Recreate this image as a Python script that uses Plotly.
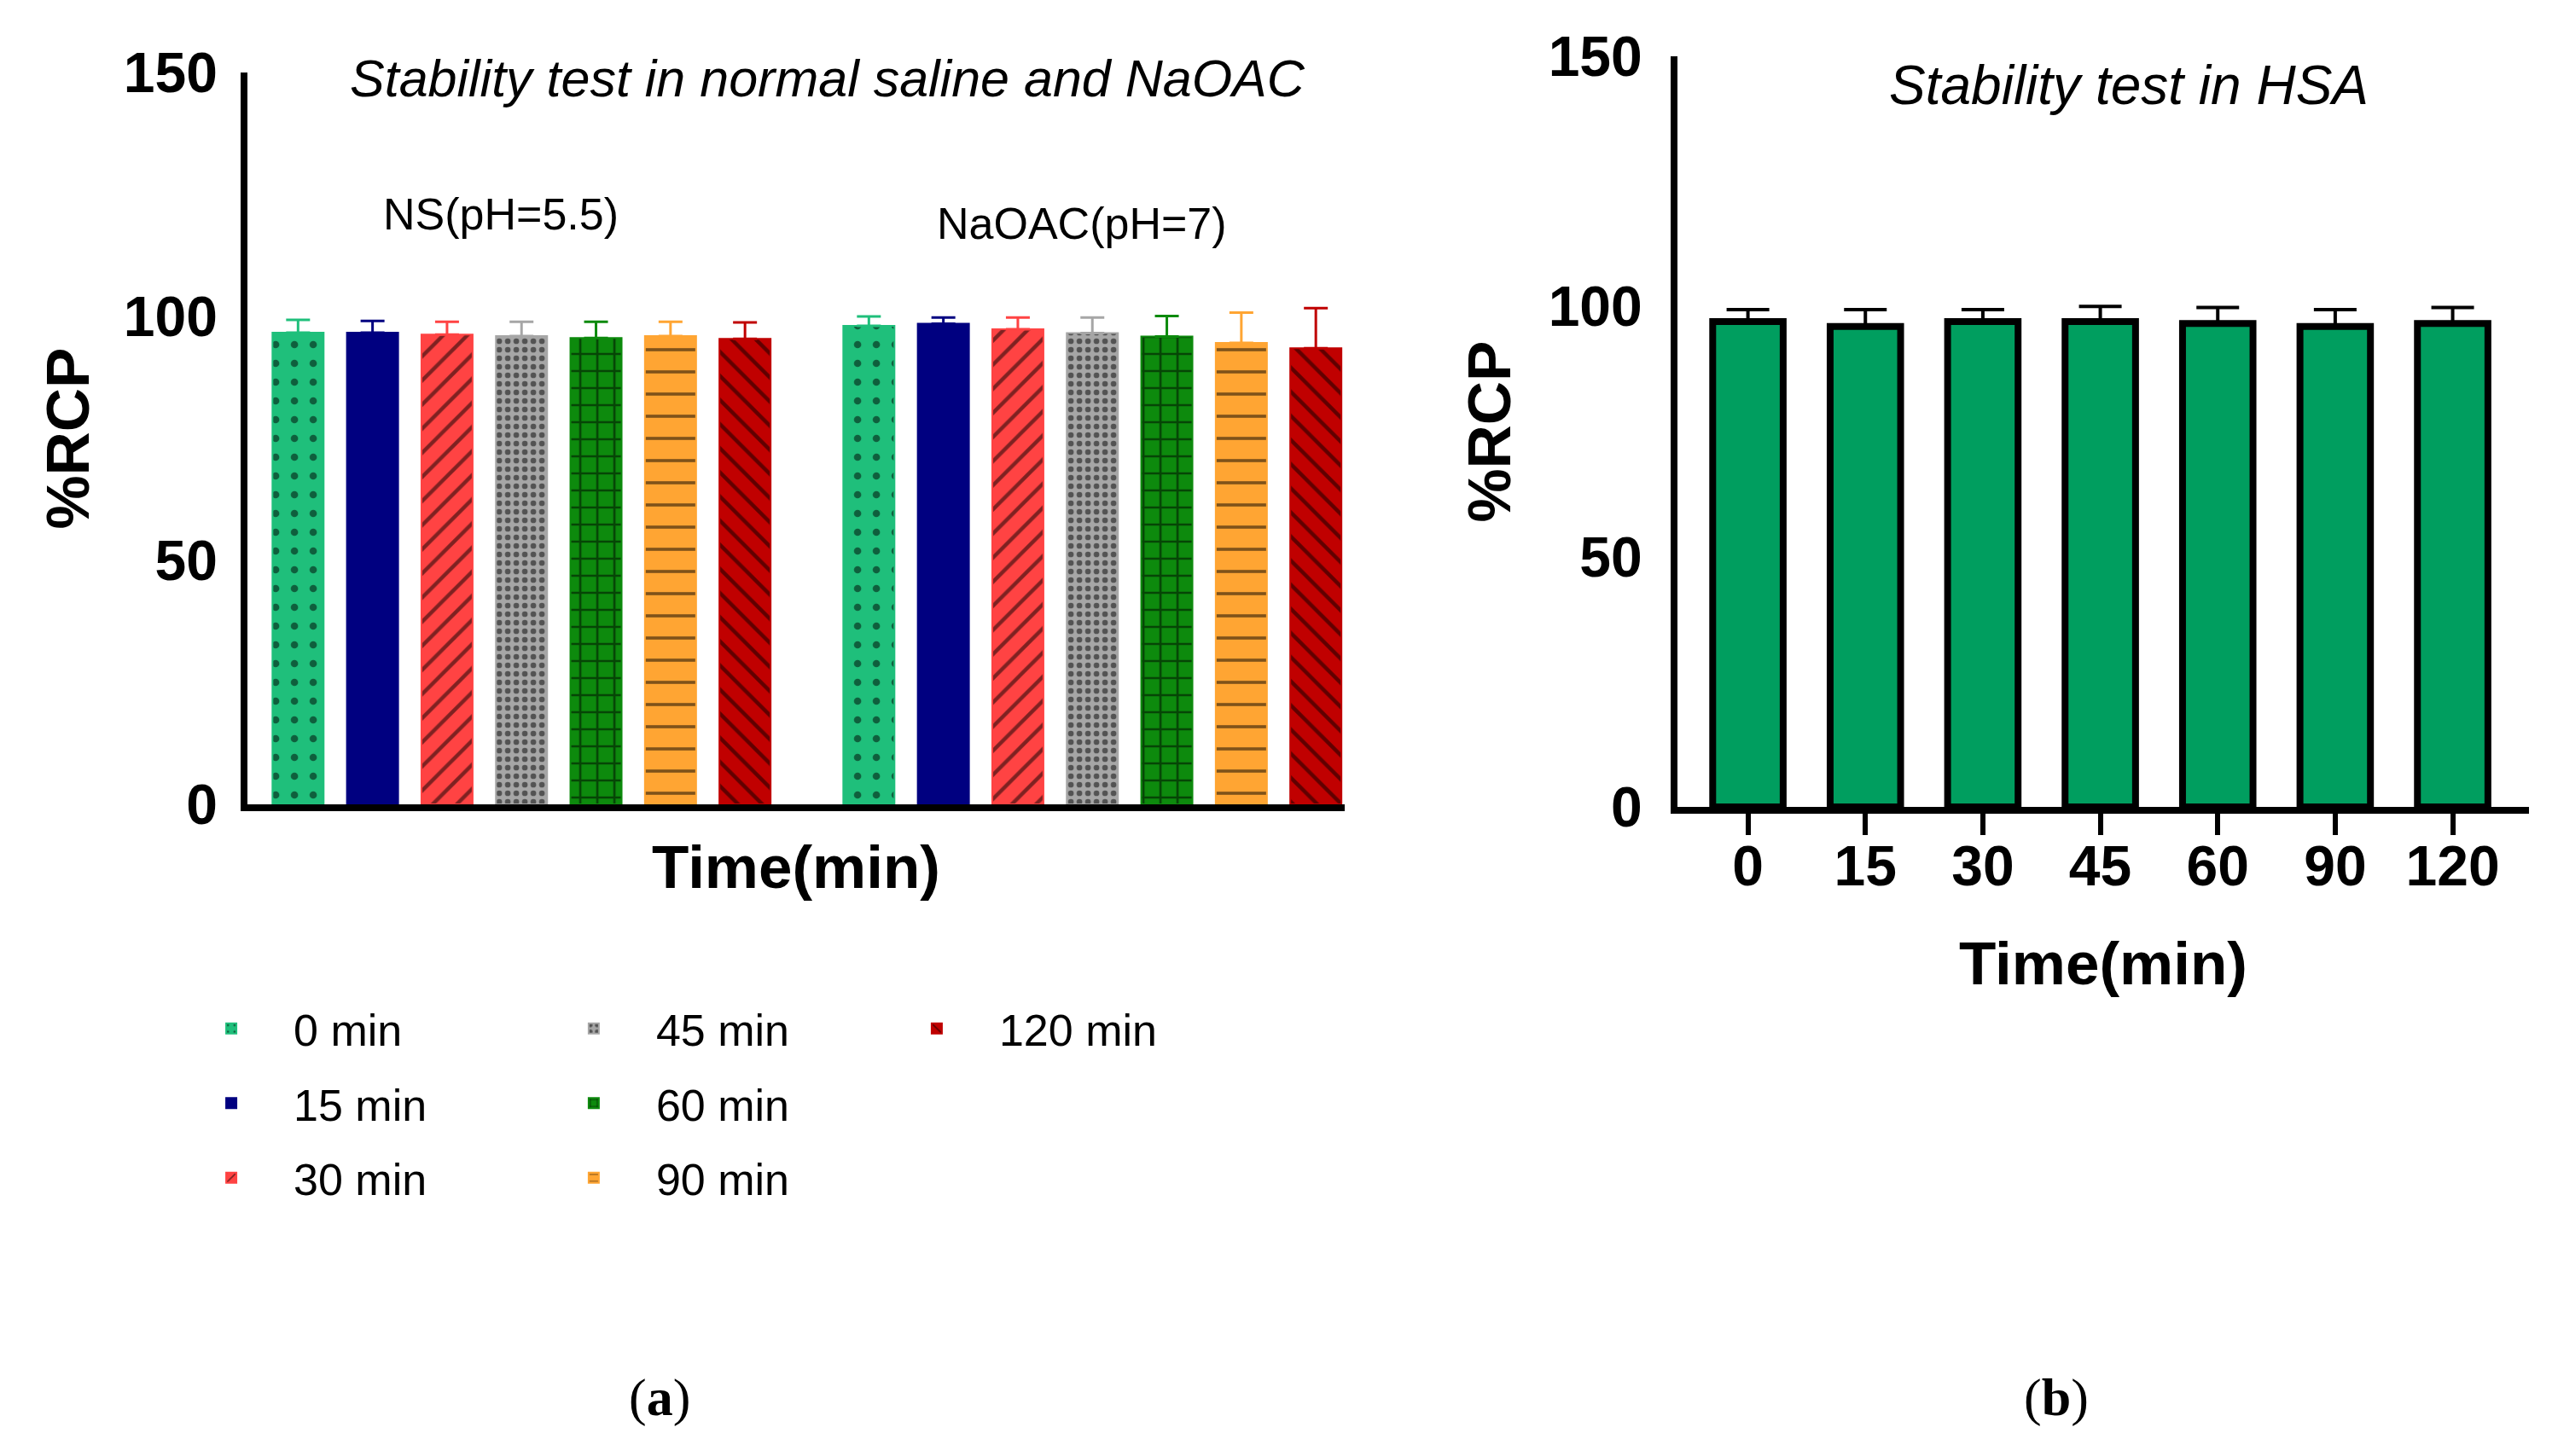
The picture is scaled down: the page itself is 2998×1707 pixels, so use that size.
import plotly.graph_objects as go

# ---------------- data ----------------
time_labels = ["0 min", "15 min", "30 min", "45 min", "60 min", "90 min", "120 min"]
media = ["NS(pH=5.5)", "NaOAC(pH=7)"]
ns_mean = [96.7, 96.7, 96.3, 96.0, 95.6, 96.0, 95.4]
ns_err = [2.6, 2.4, 2.6, 2.9, 3.3, 2.9, 3.4]
naoac_mean = [98.1, 98.5, 97.4, 96.6, 95.9, 94.6, 93.5]
naoac_err = [1.9, 1.3, 2.4, 3.2, 4.2, 6.2, 8.2]

hsa_times = ["0", "15", "30", "45", "60", "90", "120"]
hsa_mean = [97.0, 96.0, 97.0, 97.0, 96.6, 96.0, 96.6]
hsa_err = [2.4, 3.4, 2.4, 3.0, 3.2, 3.4, 3.2]

y_ticks = [0, 50, 100, 150]

# ---------------- styles ----------------
bar_colors = ["#1fbf7b", "#000080", "#ff4343", "#a6a6a6", "#0d8a0d", "#ffa533", "#c00000"]
patterns = [".", "", "/", ".", "+", "-", "\\"]
pat_size = [22, 10, 20, 10, 20, 26, 20]
pat_solid = [0.12, 0.2, 0.22, 0.35, 0.25, 0.14, 0.22]
legend_ids = ["legend", "legend", "legend", "legend2", "legend2", "legend2", "legend3"]
hsa_color = "#009e5f"

SANS = "Liberation Sans, Arial, sans-serif"

fig = go.Figure()

for i, lab in enumerate(time_labels):
    pat = None
    if patterns[i]:
        pat = dict(shape=patterns[i], fgcolor="black", bgcolor=bar_colors[i],
                   size=pat_size[i], solidity=pat_solid[i], fillmode="overlay")
    fig.add_trace(go.Bar(
        x=media,
        y=[ns_mean[i], naoac_mean[i]],
        name=lab,
        legend=legend_ids[i],
        legendgroup=lab,
        marker=dict(color=bar_colors[i], line=dict(color=bar_colors[i], width=2), pattern=pat),
        error_y=dict(type="data", symmetric=False,
                     array=[ns_err[i], naoac_err[i]], arrayminus=[0, 0],
                     color=bar_colors[i], thickness=3, width=14),
        xaxis="x", yaxis="y",
    ))

fig.add_trace(go.Bar(
    x=hsa_times, y=hsa_mean, showlegend=False, width=0.6,
    marker=dict(color=hsa_color, line=dict(color="black", width=8)),
    error_y=dict(type="data", symmetric=False, array=hsa_err, arrayminus=[0] * 7,
                 color="black", thickness=4, width=25),
    xaxis="x2", yaxis="y2",
))

axis_font = dict(family=SANS, size=66, color="black", weight="bold")
title_font = dict(family=SANS, size=71, color="black", weight="bold")

fig.update_layout(
    width=2998, height=1707,
    margin=dict(l=0, r=0, t=0, b=0, autoexpand=False),
    paper_bgcolor="white", plot_bgcolor="white",
    barmode="group", bargap=0.0865, bargroupgap=0.313,
    xaxis=dict(domain=[0.0941, 0.523], range=[-0.48, 1.442], type="category",
               automargin=False,
               showline=True, linecolor="black", linewidth=8,
               showticklabels=False, ticks="", showgrid=False, zeroline=False,
               title=dict(text="Time(min)", font=title_font, standoff=44)),
    yaxis=dict(domain=[0.4522, 0.9549], range=[0, 150], tickvals=y_ticks,
               automargin=False,
               showline=True, linecolor="black", linewidth=8, ticks="",
               showgrid=False, zeroline=False, tickfont=axis_font, ticklabelstandoff=14,
               title=dict(text="%RCP", font=title_font, standoff=20)),
    xaxis2=dict(domain=[0.6531, 0.986], range=[-0.6, 6.65], type="category",
                automargin=False,
                anchor="y2", showline=True, linecolor="black", linewidth=8,
                ticks="outside", ticklen=25, tickwidth=6, tickcolor="black",
                tickfont=axis_font, showgrid=False, zeroline=False, ticklabelstandoff=-20,
                title=dict(text="Time(min)", font=title_font, standoff=56)),
    yaxis2=dict(domain=[0.4505, 0.966], range=[0, 150], tickvals=y_ticks,
                automargin=False,
                anchor="x2", showline=True, linecolor="black", linewidth=8, ticks="",
                showgrid=False, zeroline=False, tickfont=axis_font, ticklabelstandoff=20,
                title=dict(text="%RCP", font=title_font, standoff=24)),
)

leg_common = dict(orientation="v", yanchor="top", xanchor="left", itemwidth=136,
                  tracegroupgap=17, bgcolor="rgba(0,0,0,0)",
                  font=dict(family=SANS, size=52, color="black"))
fig.update_layout(
    legend=dict(x=0.0634, y=0.322, **leg_common),
    legend2=dict(x=0.2051, y=0.322, **leg_common),
    legend3=dict(x=0.3392, y=0.322, **leg_common),
)

serif = dict(family="Liberation Serif, Times New Roman, serif", size=62, color="black")
annotations = [
    dict(text="Stability test in normal saline and NaOAC", x=962 / 2998, y=1 - 84 / 1707,
         xref="paper", yref="paper", xanchor="center", yanchor="middle",
         showarrow=False, font=dict(family=SANS, size=61, color="black", style="italic")),
    dict(text="Stability test in HSA", x=2487 / 2998, y=1 - 92 / 1707,
         xref="paper", yref="paper", xanchor="center", yanchor="middle",
         showarrow=False, font=dict(family=SANS, size=64, color="black", style="italic")),
    dict(text=media[0], x=media[0], y=121, xref="x", yref="y", xshift=-24,
         xanchor="center", yanchor="middle", showarrow=False,
         font=dict(family=SANS, size=52, color="black")),
    dict(text=media[1], x=media[1], y=119, xref="x", yref="y", xshift=-12,
         xanchor="center", yanchor="middle", showarrow=False,
         font=dict(family=SANS, size=52, color="black")),
    dict(text="(<b>a</b>)", x=765 / 2998, y=1 - 1630 / 1707, xref="paper", yref="paper",
         xanchor="center", yanchor="middle", showarrow=False, font=serif),
    dict(text="(<b>b</b>)", x=2402 / 2998, y=1 - 1630 / 1707, xref="paper", yref="paper",
         xanchor="center", yanchor="middle", showarrow=False, font=serif),
]
fig.update_layout(annotations=annotations)

fig.write_html("out.html")
